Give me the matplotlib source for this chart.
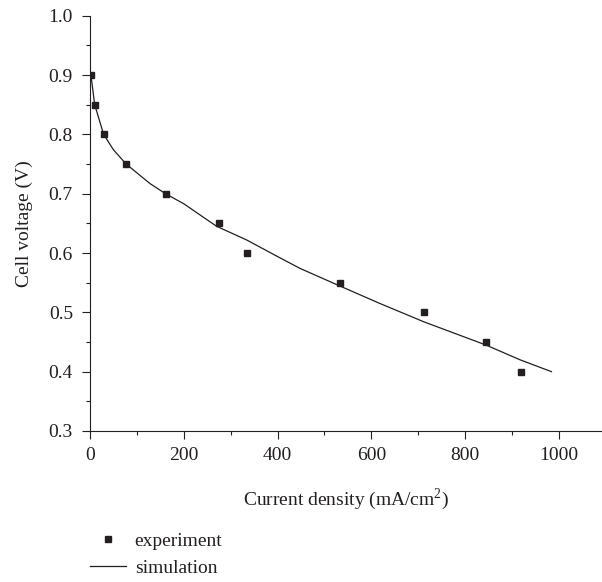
import matplotlib
matplotlib.use('Agg')
import matplotlib.pyplot as plt
from matplotlib.ticker import MultipleLocator

# experiment points (current density mA/cm2, cell voltage V)
exp_current = [2, 10, 29, 77, 161, 274, 334, 534, 712, 844, 918]
exp_voltage = [0.90, 0.85, 0.80, 0.75, 0.70, 0.65, 0.60, 0.55, 0.50, 0.45, 0.40]

# simulation curve
sim_current = [2, 10, 29, 50, 77, 128, 161, 200, 270, 334, 400, 448, 534, 618, 712, 844, 917, 984]
sim_voltage = [0.90, 0.85, 0.80, 0.774, 0.75, 0.717, 0.70, 0.683, 0.645, 0.622, 0.594, 0.574,
               0.544, 0.515, 0.484, 0.445, 0.42, 0.40]

ink = '#231f20'
plt.rcParams['font.family'] = ['Liberation Serif', 'DejaVu Serif']
plt.rcParams['font.size'] = 14
plt.rcParams['text.color'] = ink
plt.rcParams['axes.labelcolor'] = ink
plt.rcParams['xtick.color'] = ink
plt.rcParams['ytick.color'] = ink
plt.rcParams['mathtext.fontset'] = 'custom'
plt.rcParams['mathtext.rm'] = 'Liberation Serif'

fig = plt.figure(figsize=(6.02, 5.82), dpi=100)
ax = fig.add_axes([90 / 602, 151 / 582, 511 / 602, 415.3 / 582])

ax.plot(exp_current, exp_voltage, ls='none', marker='s', ms=4.3, color=ink, label='experiment')
ax.plot(sim_current, sim_voltage, lw=0.9, color=ink, label='simulation')

ax.set_xlim(0, 1089.6)
ax.set_ylim(0.3, 1.0)
ax.xaxis.set_major_locator(MultipleLocator(200))
ax.xaxis.set_minor_locator(MultipleLocator(100))
ax.yaxis.set_major_locator(MultipleLocator(0.1))
ax.yaxis.set_minor_locator(MultipleLocator(0.05))
ax.yaxis.set_major_formatter(matplotlib.ticker.FormatStrFormatter('%.1f'))

for s in ['top', 'right']:
    ax.spines[s].set_visible(False)
for s in ['left', 'bottom']:
    ax.spines[s].set_linewidth(0.8)
    ax.spines[s].set_color(ink)
ax.tick_params(which='major', direction='out', length=5.5, width=0.8)
ax.tick_params(which='minor', direction='out', length=2.8, width=0.8)
ax.tick_params(axis='x', which='major', pad=6.3)
ax.tick_params(axis='y', which='major', pad=6.8)

ax.set_xlabel('Current density (mA/cm$^2$)', labelpad=16)
ax.set_ylabel('Cell voltage (V)', labelpad=11)

fig.legend(loc='upper left', bbox_to_anchor=(90 / 602, 50 / 582), frameon=False,
           borderpad=0, borderaxespad=0, handlelength=1.85, handletextpad=0.45,
           labelspacing=0.5, fontsize=14)

fig.savefig('out.png', dpi=100)
